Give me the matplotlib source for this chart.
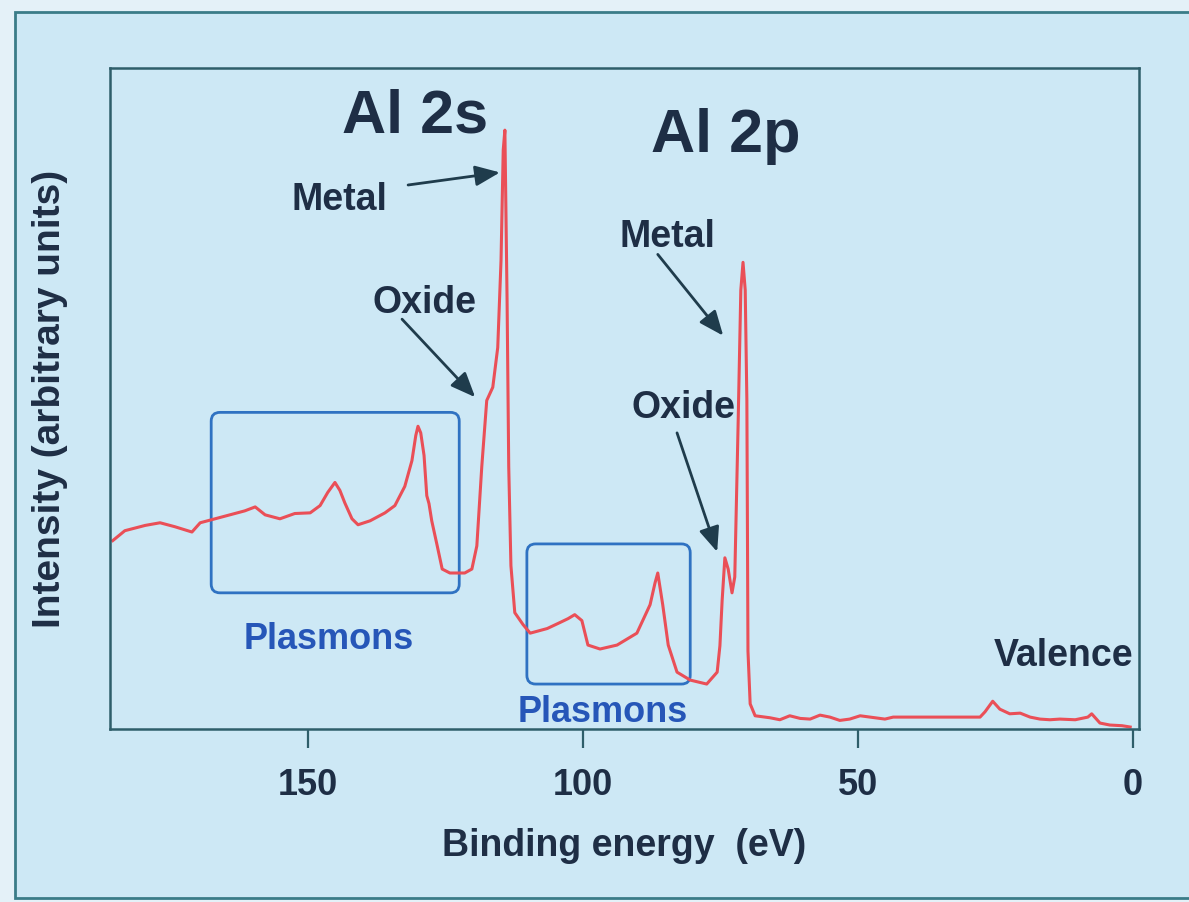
import matplotlib
matplotlib.use("Agg")
import matplotlib.pyplot as plt
from matplotlib.patches import FancyBboxPatch, Rectangle

plt.rcParams['font.family'] = ['Liberation Sans', 'DejaVu Sans']

# binding energy (eV) and intensity (arbitrary units, 0-100)
energy = [185.5, 183.3, 179.6, 176.9, 174.2, 171.1, 169.6, 166.9, 163.3, 161.5,
          159.6, 157.8, 155.1, 152.4, 149.6, 147.8, 146.4, 145.1, 144.2, 143.3,
          142.0, 140.9, 138.7, 136.0, 134.2, 132.4, 131.1, 130.4, 130.0, 129.5,
          128.9, 128.4, 128.0, 127.5, 126.5, 125.6, 124.2, 121.5, 120.2, 119.3,
          118.4, 117.5, 116.4, 115.5, 114.9, 114.5, 114.2, 113.8, 113.5, 113.1,
          112.4, 110.9, 109.6, 106.5, 104.2, 102.7, 101.5, 100.2, 99.1, 96.9,
          93.8, 90.2, 87.8, 86.9, 86.4, 85.5, 84.5, 82.9, 80.5, 77.5,
          75.6, 75.1, 74.7, 74.2, 73.6, 72.9, 72.4, 71.8, 71.3, 70.9,
          70.5, 70.2, 70.0, 69.6, 68.7, 66.0, 64.2, 62.4, 60.5, 58.7,
          56.9, 55.1, 53.3, 51.5, 49.6, 47.8, 45.1, 43.6, 35.0, 27.8,
          26.9, 25.5, 24.2, 22.4, 20.5, 18.7, 16.9, 15.1, 13.3, 10.5,
          8.2, 7.5, 6.0, 4.2, 2.0, 0.5]
intensity = [28.5, 30.0, 30.8, 31.2, 30.6, 29.8, 31.2, 31.8, 32.6, 33.0,
             33.6, 32.4, 31.8, 32.6, 32.7, 33.8, 35.8, 37.3, 36.1, 34.2,
             31.8, 30.9, 31.5, 32.7, 33.8, 36.7, 40.6, 44.4, 45.8, 44.8,
             41.4, 35.3, 34.1, 31.5, 27.7, 24.2, 23.6, 23.6, 24.2, 27.7,
             39.7, 49.7, 51.7, 57.7, 70.9, 87.6, 90.6, 64.8, 39.7, 24.7,
             17.6, 15.8, 14.5, 15.2, 16.1, 16.7, 17.3, 16.4, 12.7, 12.1,
             12.7, 14.5, 18.8, 22.1, 23.6, 18.8, 12.7, 8.6, 7.4, 6.8,
             8.6, 12.6, 19.4, 25.9, 24.2, 20.6, 23.0, 45.8, 66.4, 70.6,
             66.4, 49.7, 11.8, 3.8, 2.0, 1.7, 1.4, 2.0, 1.6, 1.5,
             2.1, 1.8, 1.3, 1.5, 2.0, 1.8, 1.5, 1.8, 1.8, 1.8,
             2.6, 4.2, 3.0, 2.3, 2.4, 1.8, 1.5, 1.4, 1.5, 1.4,
             1.8, 2.3, 0.9, 0.6, 0.5, 0.3]

xticks = [150, 100, 50, 0]

# plasmon boxes: (high eV, low eV, bottom, top)
plasmon_boxes = [(167.6, 122.5, 20.6, 47.9), (110.2, 80.5, 6.8, 28.0)]

bg = '#cde8f5'
ink = '#1e2e45'
teal = '#2e5e6a'
blue = '#2f72c2'

fig = plt.figure(figsize=(11.89, 9.02), dpi=100)
fig.set_facecolor('#e4f1f8')
fig.patches.append(Rectangle((15 / 1189, 1 - 898 / 902), 1185 / 1189, 886 / 902,
                             transform=fig.transFigure, facecolor=bg,
                             edgecolor='#3a7c88', lw=2, zorder=-10))

ax = fig.add_axes([110 / 1189, (902 - 729) / 902, 1029 / 1189, 661 / 902])
ax.set_facecolor(bg)
ax.plot(energy, intensity, color='#ea4f57', lw=2.2, solid_joinstyle='round')

ax.set_xlim(186.0, -1.1)
ax.set_ylim(0, 100)
ax.set_xticks(xticks)
ax.set_xticklabels([str(t) for t in xticks], fontsize=26, fontweight='bold', color=ink)
ax.set_yticks([])
ax.tick_params(axis='x', direction='out', length=14, width=1.6, color=teal, pad=14)
for s in ax.spines.values():
    s.set_color(teal)
    s.set_linewidth(1.8)

ax.set_xlabel('Binding energy  (eV)', fontsize=27, fontweight='bold', color=ink, labelpad=18)
ax.set_ylabel('Intensity (arbitrary units)', fontsize=28, fontweight='bold', color=ink, labelpad=30)

for x_hi, x_lo, y_lo, y_hi in plasmon_boxes:
    box = FancyBboxPatch((x_lo, y_lo), x_hi - x_lo, y_hi - y_lo,
                         boxstyle='round,pad=0,rounding_size=1.6', mutation_aspect=0.83,
                         fill=False, edgecolor=blue, lw=2)
    ax.add_patch(box)

ax.text(146.3, 12.1, 'Plasmons', fontsize=26, fontweight='bold', color='#2656b8', ha='center', va='baseline')
ax.text(96.4, 1.1, 'Plasmons', fontsize=26, fontweight='bold', color='#2656b8', ha='center', va='baseline')

ax.text(130.6, 90.2, 'Al 2s', fontsize=44, fontweight='bold', color=ink, ha='center', va='baseline')
ax.text(74.0, 87.3, 'Al 2p', fontsize=44, fontweight='bold', color=ink, ha='center', va='baseline')
ax.text(12.6, 9.5, 'Valence', fontsize=27, fontweight='bold', color=ink, ha='center', va='baseline')

arrow = dict(arrowstyle='-|>,head_length=0.6,head_width=0.25', color='#1f3c4c',
             lw=2, mutation_scale=25, shrinkA=0, shrinkB=0)
labels = [('Metal', (144.2, 78.5), (131.8, 82.3), (115.1, 84.2)),
          ('Oxide', (128.9, 63.0), (132.9, 62.0), (119.6, 50.2)),
          ('Metal', (84.6, 72.9), (86.4, 71.8), (74.5, 59.5)),
          ('Oxide', (81.8, 47.0), (82.9, 44.8), (75.6, 26.8))]
for txt, pos, start, tip in labels:
    ax.text(pos[0], pos[1], txt, fontsize=27, fontweight='bold', color=ink, ha='center', va='baseline')
    ax.annotate('', xy=tip, xytext=start, arrowprops=arrow)

fig.savefig('out.png', dpi=100, facecolor=fig.get_facecolor())
